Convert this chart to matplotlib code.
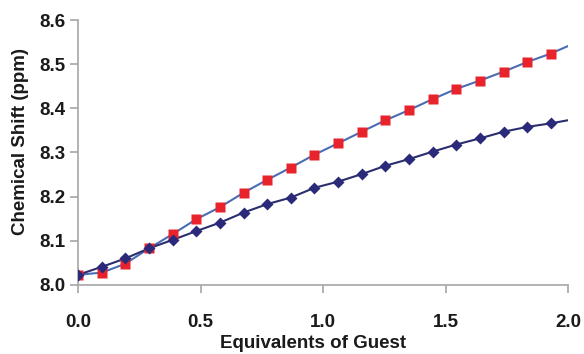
import numpy as np
import matplotlib
matplotlib.use("Agg")
import matplotlib.pyplot as plt

plt.rcParams['font.family'] = ['Liberation Sans', 'DejaVu Sans']
plt.rcParams['font.weight'] = 'bold'

# equivalents of guest (x) for both titrations
equiv = [0.0, 0.097, 0.193, 0.29, 0.386, 0.483, 0.579, 0.676, 0.772, 0.869, 0.965,
         1.062, 1.158, 1.255, 1.351, 1.448, 1.544, 1.641, 1.737, 1.834, 1.93]

# red squares
shift_sq = [8.023, 8.028, 8.048, 8.083, 8.115, 8.149, 8.176, 8.209, 8.238, 8.266, 8.295,
            8.321, 8.347, 8.373, 8.396, 8.421, 8.444, 8.463, 8.483, 8.505, 8.524]
# navy diamonds
shift_dia = [8.023, 8.041, 8.060, 8.083, 8.102, 8.122, 8.141, 8.164, 8.183, 8.198, 8.220,
             8.234, 8.251, 8.270, 8.285, 8.302, 8.318, 8.332, 8.347, 8.358, 8.366]

# fitted curves continue to 2.0 equivalents
fit_end_x = 2.0
fit_end_sq = 8.541
fit_end_dia = 8.373

fig = plt.figure(figsize=(5.84, 3.54), dpi=100)
ax = fig.add_axes([0.1336, 0.195, 0.839, 0.7485])

ax.plot(equiv + [fit_end_x], shift_sq + [fit_end_sq], color='#4a6cb3', lw=1.5, zorder=2)
ax.plot(equiv + [fit_end_x], shift_dia + [fit_end_dia], color='#2b2d6e', lw=1.5, zorder=2)
ax.plot(equiv, shift_sq, 's', color='#e8232b', ms=6.8, mec='none', zorder=3)
ax.plot(equiv, shift_dia, 'D', color='#2b2a7a', ms=6.3, mec='none', zorder=4)

ax.set_xlim(0, 2.0)
ax.set_ylim(8.0, 8.6)
ax.set_xticks(np.arange(0, 2.01, 0.5))
ax.set_yticks(np.arange(8.0, 8.61, 0.1))
ax.xaxis.set_major_formatter(matplotlib.ticker.FormatStrFormatter('%.1f'))
ax.yaxis.set_major_formatter(matplotlib.ticker.FormatStrFormatter('%.1f'))

for s in ['top', 'right']:
    ax.spines[s].set_visible(False)
for s in ['left', 'bottom']:
    ax.spines[s].set_color('#a6a6a6')
    ax.spines[s].set_linewidth(1.2)
ax.tick_params(axis='both', colors='#a6a6a6', length=6, width=1.2, labelsize=13.5,
               labelcolor='#1a1a1a')
ax.tick_params(axis='x', pad=15)
ax.tick_params(axis='y', pad=3)

ax.set_xlabel('Equivalents of Guest', fontsize=13.5, fontweight='bold', color='#1a1a1a')
ax.xaxis.set_label_coords(0.48, -0.19)
ax.set_ylabel('Chemical Shift (ppm)', fontsize=13.5, fontweight='bold', color='#1a1a1a')
ax.yaxis.set_label_coords(-0.1, 0.543)

fig.savefig('out.png', dpi=100)
